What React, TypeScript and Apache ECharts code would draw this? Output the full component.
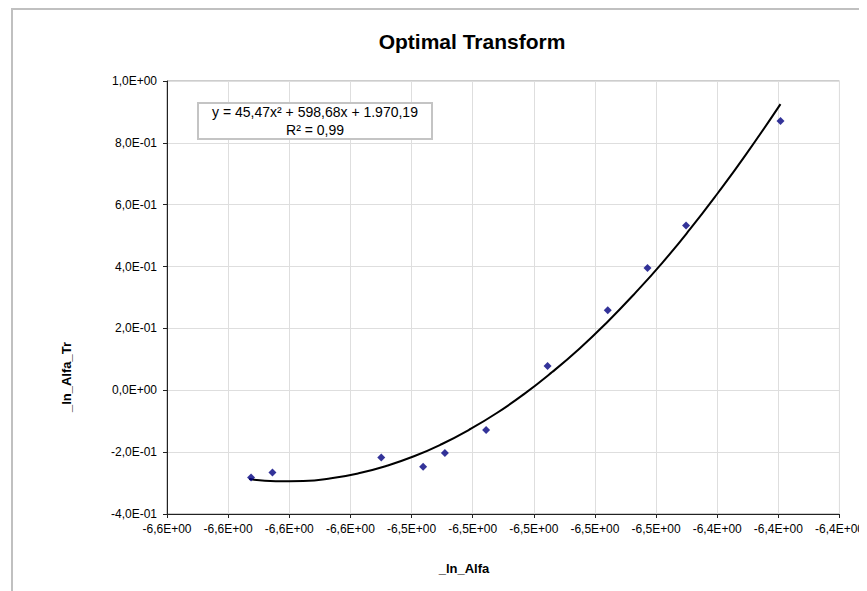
import React, { useEffect, useRef } from "react";
import * as echarts from "echarts";

// Observed data points (_ln_Alfa, _ln_Alfa_Tr)
const pointX = [-6.5925, -6.5855, -6.5499, -6.5362, -6.5291, -6.5156, -6.4955, -6.4758, -6.4628, -6.4502, -6.4193];
const pointY = [-0.282, -0.266, -0.2175, -0.247, -0.203, -0.1286, 0.0786, 0.259, 0.3955, 0.533, 0.871];

// Polynomial trendline
const trendX = [-6.5931, -6.5844, -6.5754, -6.5663, -6.5573, -6.5483, -6.5392, -6.5302, -6.5212, -6.5121, -6.5031, -6.4941, -6.485, -6.476, -6.467, -6.4579, -6.4489, -6.4399, -6.4308, -6.4193];
const trendY = [-0.287, -0.294, -0.293, -0.2846, -0.2685, -0.2447, -0.2134, -0.1744, -0.1278, -0.0735, -0.0116, 0.0581, 0.1353, 0.2202, 0.3127, 0.4129, 0.5208, 0.6362, 0.7594, 0.9254];

const titleText = "Optimal Transform";
const xName = "_ln_Alfa";
const yName = "_ln_Alfa_Tr";
const equationLine1 = "y = 45,47x\u00B2 + 598,68x + 1.970,19";
const equationLine2 = "R\u00B2 = 0,99";

const xMin = -6.62;
const xMax = -6.4;
const xStep = 0.02;
const yMin = -0.4;
const yMax = 1.0;
const yStep = 0.2;

const FONT = '"Liberation Sans", Arial, sans-serif';

function sci(v: number): string {
  if (Math.abs(v) < 1e-12) return "0,0E+00";
  let e = Math.floor(Math.log10(Math.abs(v)) + 1e-9);
  let m = v / Math.pow(10, e);
  let s = m.toFixed(1);
  if (Math.abs(parseFloat(s)) >= 10) {
    e += 1;
    s = (v / Math.pow(10, e)).toFixed(1);
  }
  return s.replace(".", ",") + "E" + (e < 0 ? "-" : "+") + String(Math.abs(e)).padStart(2, "0");
}

export default function App() {
  const ref = useRef<HTMLDivElement>(null);
  useEffect(() => {
    if (!ref.current) return;
    const chart = echarts.init(ref.current, undefined, { renderer: "svg" });
    const scatterData = pointX.map((x, i) => [x, pointY[i]]);
    const trendData = trendX.map((x, i) => [x, trendY[i]]);
    chart.setOption({
      animation: false,
      backgroundColor: "#ffffff",
      title: {
        text: titleText,
        left: 464,
        top: 23,
        textAlign: "center",
        padding: 0,
        textStyle: { fontFamily: FONT, fontSize: 21, fontWeight: "bold", color: "#000" },
      },
      grid: {
        left: 159,
        right: 26,
        top: 73,
        bottom: 77,
        show: true,
        backgroundColor: "#ffffff",
        borderColor: "#9a9a9a",
        borderWidth: 1,
      },
      xAxis: {
        type: "value",
        min: xMin,
        max: xMax,
        interval: xStep,
        axisLine: { show: true, onZero: false, lineStyle: { color: "#222", width: 1 } },
        axisTick: { show: true, inside: false, length: 4, lineStyle: { color: "#222" } },
        axisLabel: {
          show: true,
          interval: 0,
          margin: 9,
          showMinLabel: true,
          showMaxLabel: true,
          hideOverlap: false,
          fontFamily: FONT,
          fontSize: 12,
          color: "#000",
          formatter: (v: number) => sci(v),
        },
        splitLine: { show: true, lineStyle: { color: "#dedede", width: 1 } },
      },
      yAxis: {
        type: "value",
        min: yMin,
        max: yMax,
        interval: yStep,
        axisLine: { show: true, onZero: false, lineStyle: { color: "#222", width: 1 } },
        axisTick: { show: true, inside: false, length: 4, lineStyle: { color: "#222" } },
        axisLabel: {
          show: true,
          margin: 10,
          showMinLabel: true,
          showMaxLabel: true,
          fontFamily: FONT,
          fontSize: 12,
          color: "#000",
          formatter: (v: number) => sci(v),
        },
        splitLine: { show: true, lineStyle: { color: "#dedede", width: 1 } },
      },
      series: [
        {
          type: "line",
          name: "trend",
          data: trendData,
          smooth: true,
          showSymbol: false,
          symbol: "none",
          lineStyle: { color: "#000000", width: 2 },
          z: 3,
        },
        {
          type: "scatter",
          name: "points",
          data: scatterData,
          symbol: "diamond",
          symbolSize: 8,
          itemStyle: { color: "#000080" },
          z: 4,
        },
      ],
      graphic: [
        {
          type: "line",
          shape: { x1: 4, y1: 1, x2: 859, y2: 1 },
          style: { stroke: "#c0c0c0", lineWidth: 2 },
          silent: true,
        },
        {
          type: "line",
          shape: { x1: 4, y1: 0, x2: 4, y2: 583 },
          style: { stroke: "#c0c0c0", lineWidth: 2 },
          silent: true,
        },
        {
          type: "rect",
          shape: { x: 190, y: 95, width: 234, height: 36 },
          style: { fill: "#ffffff", stroke: "#c4c4c4", lineWidth: 2 },
          z: 10,
        },
        {
          type: "text",
          x: 307,
          y: 104,
          z: 11,
          style: {
            text: equationLine1,
            fontFamily: FONT,
            fontSize: 14,
            fill: "#000",
            textAlign: "center",
            textVerticalAlign: "middle",
          },
        },
        {
          type: "text",
          x: 307,
          y: 122,
          z: 11,
          style: {
            text: equationLine2,
            fontFamily: FONT,
            fontSize: 14,
            fill: "#000",
            textAlign: "center",
            textVerticalAlign: "middle",
          },
        },
        {
          type: "text",
          x: 456,
          y: 560,
          style: {
            text: xName,
            fontFamily: FONT,
            fontSize: 13,
            fontWeight: "bold",
            fill: "#000",
            textAlign: "center",
            textVerticalAlign: "middle",
          },
        },
        {
          type: "text",
          x: 58,
          y: 369,
          rotation: Math.PI / 2,
          style: {
            text: yName,
            fontFamily: FONT,
            fontSize: 13,
            fontWeight: "bold",
            fill: "#000",
            textAlign: "center",
            textVerticalAlign: "middle",
          },
        },
      ],
    });
    return () => chart.dispose();
  }, []);
  return <div ref={ref} style={{ width: 859, height: 583 }} />;
}
